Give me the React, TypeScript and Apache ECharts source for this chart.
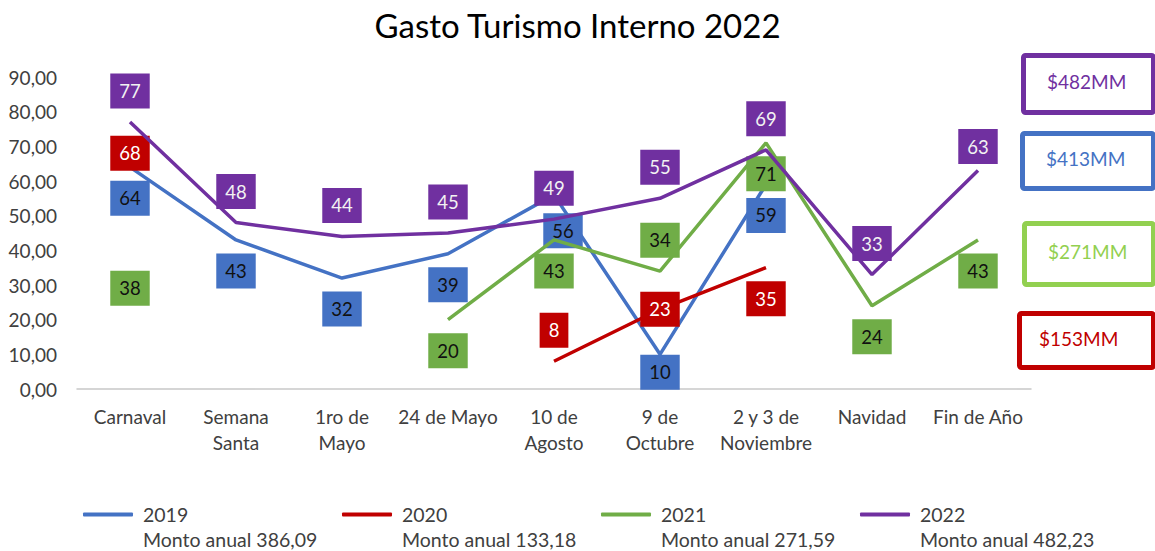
import React, { useEffect, useRef } from 'react';
import * as echarts from 'echarts';

const categories = ['Carnaval', 'Semana\nSanta', '1ro de\nMayo', '24 de Mayo', '10 de\nAgosto', '9 de\nOctubre', '2 y 3 de\nNoviembre', 'Navidad', 'Fin de Año'];
const years = ['2019', '2020', '2021', '2022'];
const values2019 = [64, 43, 32, 39, 56, 10, 59, null, null];
const values2020 = [68, null, null, null, 8, 23, 35, null, null];
const values2021 = [38, null, null, 20, 43, 34, 71, 24, 43];
const values2022 = [77, 48, 44, 45, 49, 55, 69, 33, 63];
const annualTotals = ['386,09', '133,18', '271,59', '482,23'];
const badgeTexts = ['$482MM', '$413MM', '$271MM', '$153MM'];

// label placement (style, not data)
const place2019 = ['below', 'below', 'below', 'below', 'belowRight', 'belowNear', 'below', '', ''];
const place2020 = ['center', '', '', '', 'above', 'center', 'below', '', ''];
const place2021 = ['below', '', '', 'below', 'below', 'above', 'below', 'below', 'below'];
const place2022 = ['above', 'above', 'above', 'above', 'above', 'above', 'above', 'above', 'aboveNear'];

const offsets: Record<string, number[]> = {
  above: [0, -31],
  below: [0, 31],
  center: [0, 0],
  belowRight: [9, 36],
  belowNear: [0, 18],
  aboveNear: [0, -24],
};

const FONT = 'Lato';
const colors = ['#4472C4', '#C00000', '#70AD47', '#7030A0'];
const labelText = ['#111111', '#ffffff', '#111111', '#f2f2f2'];
const badgeColors = ['#7030A0', '#4472C4', '#92D050', '#C00000'];

function buildData(values: (number | null)[], places: string[]) {
  return values.map((v, i) => {
    if (v === null) return null;
    return { value: v, label: { offset: offsets[places[i]] || [0, 0] } };
  });
}

export default function App() {
  const ref = useRef<HTMLDivElement>(null);
  useEffect(() => {
    if (!ref.current) return;
    const chart = echarts.init(ref.current, undefined, { renderer: 'svg' });
    const allValues = [values2019, values2020, values2021, values2022];
    const allPlaces = [place2019, place2020, place2021, place2022];
    const series = years.map((y, k) => ({
      name: y,
      type: 'line',
      data: buildData(allValues[k], allPlaces[k]),
      connectNulls: false,
      symbol: 'circle',
      symbolSize: 0,
      showSymbol: true,
      lineStyle: { color: colors[k], width: 3.5 },
      itemStyle: { color: colors[k] },
      label: {
        show: true,
        position: 'inside',
        formatter: '{c}',
        backgroundColor: colors[k],
        color: labelText[k],
        padding: [8, 9],
        fontSize: 18.5,
        lineHeight: 19,
        fontFamily: FONT,
      },
      emphasis: { disabled: true },
      z: 2 + k,
    }));

    const badgeTops = [53, 131, 221, 311];
    const badgeHeights = [62, 60, 66, 59];
    const badgeLefts = [1021, 1020, 1022, 1017];
    const graphic: any[] = [];
    badgeTexts.forEach((t, i) => {
      graphic.push({
        type: 'rect',
        left: badgeLefts[i],
        top: badgeTops[i],
        shape: { width: 1153 - badgeLefts[i] - 2, height: badgeHeights[i] - 5, r: 2 },
        style: { fill: '#ffffff', stroke: badgeColors[i], lineWidth: 5 },
        z: 10,
      });
      graphic.push({
        type: 'text',
        left: badgeLefts[i] + 26 + (i === 3 ? -4 : 0),
        top: badgeTops[i] + badgeHeights[i] / 2 - 12,
        style: { text: t, fill: badgeColors[i], fontSize: 19, fontFamily: FONT },
        z: 11,
      });
    });

    chart.setOption({
      animation: false,
      textStyle: { fontFamily: FONT },
      title: {
        text: 'Gasto Turismo Interno 2022',
        left: 'center',
        top: 3,
        textStyle: { fontSize: 33, fontWeight: 'normal', color: '#000000', fontFamily: FONT },
      },
      grid: { left: 77, top: 77, width: 954, height: 312 },
      xAxis: {
        type: 'category',
        data: categories,
        boundaryGap: true,
        axisTick: { show: false },
        axisLine: { lineStyle: { color: '#c8c8c8', width: 1.5 } },
        axisLabel: { color: '#404040', fontSize: 19, lineHeight: 26, margin: 14, interval: 0, fontFamily: FONT },
      },
      yAxis: {
        type: 'value',
        min: 0,
        max: 90,
        interval: 10,
        splitLine: { show: false },
        axisLine: { show: false },
        axisTick: { show: false },
        axisLabel: {
          color: '#404040',
          fontSize: 19,
          margin: 20,
          fontFamily: FONT,
          formatter: (v: number) => v.toFixed(2).replace('.', ','),
        },
      },
      legend: {
        data: years,
        left: 78,
        top: 472,
        itemWidth: 50,
        itemHeight: 4,
        itemGap: 19,
        icon: 'roundRect',
        formatter: (name: string) => ` \n${name}\nMonto anual ${annualTotals[years.indexOf(name)]}`,
        textStyle: { fontSize: 19.5, lineHeight: 25, color: '#404040', fontFamily: FONT, width: 180, padding: [0, 0, 0, 5] },
      },
      graphic,
      series,
    });
    return () => chart.dispose();
  }, []);
  return <div ref={ref} style={{ position: 'fixed', left: 0, top: 0, width: 1155, height: 551, background: '#ffffff' }} />;
}
